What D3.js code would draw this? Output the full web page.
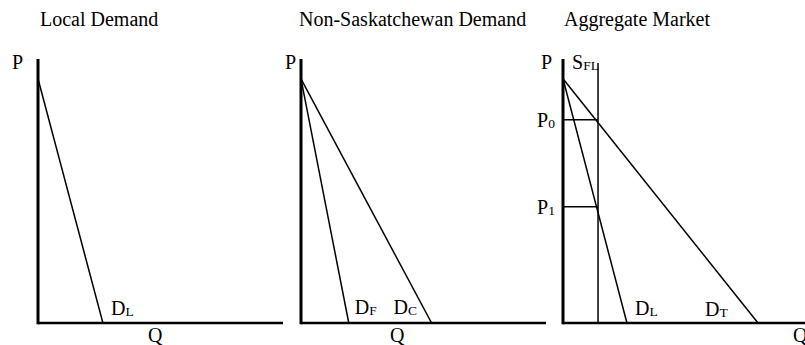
<!DOCTYPE html>
<html><head><meta charset="utf-8">
<script src="https://cdn.jsdelivr.net/npm/d3@7"></script>
<style>
html,body{margin:0;padding:0;background:#fff;}
text{font-family:"Liberation Serif","Times New Roman",serif;fill:#000;}
</style></head>
<body><svg id="c" width="805" height="345"></svg>
<script>
// Data (abstract units: quantity 0-100, price 0-100)
const panelTitles = ["Local Demand", "Non-Saskatchewan Demand", "Aggregate Market"];
const chokePrice = 92.5;                 // common vertical intercept of all demand curves
const localDemandNames = ["D", "L"];
const localDemandQ = [26.5];             // Q-intercept of D_L (panel 1)
const nonSaskNames = [["D","F"], ["D","C"]];
const nonSaskQ = [19.5, 53.3];           // Q-intercepts of D_F, D_C (panel 2)
const aggNames = [["D","L"], ["D","T"]];
const aggQ = [26.1, 79.6];               // Q-intercepts of D_L, D_T (panel 3)
const supplyFL = 14.3;                   // fixed supply S_FL quantity
const priceLevels = [77, 44];            // P0, P1
const priceLabels = ["0", "1"];

const svg = d3.select("#c");
const y = d3.scaleLinear().domain([0, 100]).range([323, 59]);
const panelX0 = [38, 301, 563];
const panelW = 245;
const xs = panelX0.map(x0 => d3.scaleLinear().domain([0, 100]).range([x0, x0 + panelW]));

function label(g, x, yy, main, sub, size) {
  const t = g.append("text").attr("x", x).attr("y", yy).attr("font-size", size || 20);
  t.append("tspan").text(main);
  if (sub) t.append("tspan").attr("font-size", 13.5).attr("dy", 1).text(sub);
  return t;
}

const titleX = [40, 299, 564];
panelTitles.forEach((t, i) => {
  svg.append("text").attr("x", titleX[i]).attr("y", 26).attr("font-size", 20).text(t);
});

// axes
xs.forEach((x, i) => {
  const g = svg.append("g");
  g.append("line").attr("x1", x(0)).attr("x2", x(100)).attr("y1", y(0)).attr("y2", y(0))
    .attr("stroke", "#000").attr("stroke-width", 2.6);
  g.append("line").attr("x1", x(0)).attr("x2", x(0)).attr("y1", y(0) + 1.3).attr("y2", y(100))
    .attr("stroke", "#000").attr("stroke-width", 3);
});

// Axis labels
const pLabelX = [12, 285, 541];
const qLabelX = [148, 390, 793];
pLabelX.forEach(px => label(svg, px, 69, "P"));
qLabelX.forEach(qx => label(svg, qx, 342, "Q"));

function demand(x, q) {
  svg.append("line").attr("x1", x(0)).attr("y1", y(chokePrice)).attr("x2", x(q)).attr("y2", y(0))
    .attr("stroke", "#000").attr("stroke-width", 1.5);
}

// Panel 1
demand(xs[0], localDemandQ[0]);
label(svg, xs[0](localDemandQ[0]) + 8, 315, localDemandNames[0], localDemandNames[1]);

// Panel 2
nonSaskQ.forEach(q => demand(xs[1], q));
label(svg, xs[1](nonSaskQ[0]) + 6, 314, nonSaskNames[0][0], nonSaskNames[0][1]);
label(svg, xs[1](nonSaskQ[1]) - 38, 314, nonSaskNames[1][0], nonSaskNames[1][1]);

// Panel 3
aggQ.forEach(q => demand(xs[2], q));
label(svg, xs[2](aggQ[0]) + 8, 315, aggNames[0][0], aggNames[0][1]);
label(svg, xs[2](aggQ[1]) - 53, 316, aggNames[1][0], aggNames[1][1]);

// Supply S_FL
svg.append("line").attr("x1", xs[2](supplyFL)).attr("x2", xs[2](supplyFL))
  .attr("y1", 63).attr("y2", y(0)).attr("stroke", "#000").attr("stroke-width", 1.5);
label(svg, 572, 69, "S", "FL");

// price levels
priceLevels.forEach((p, i) => {
  svg.append("line").attr("x1", xs[2](0)).attr("x2", xs[2](supplyFL))
    .attr("y1", y(p)).attr("y2", y(p)).attr("stroke", "#000").attr("stroke-width", 1.5);
  label(svg, 537, y(p) + 7, "P", priceLabels[i]);
});
</script></body></html>
